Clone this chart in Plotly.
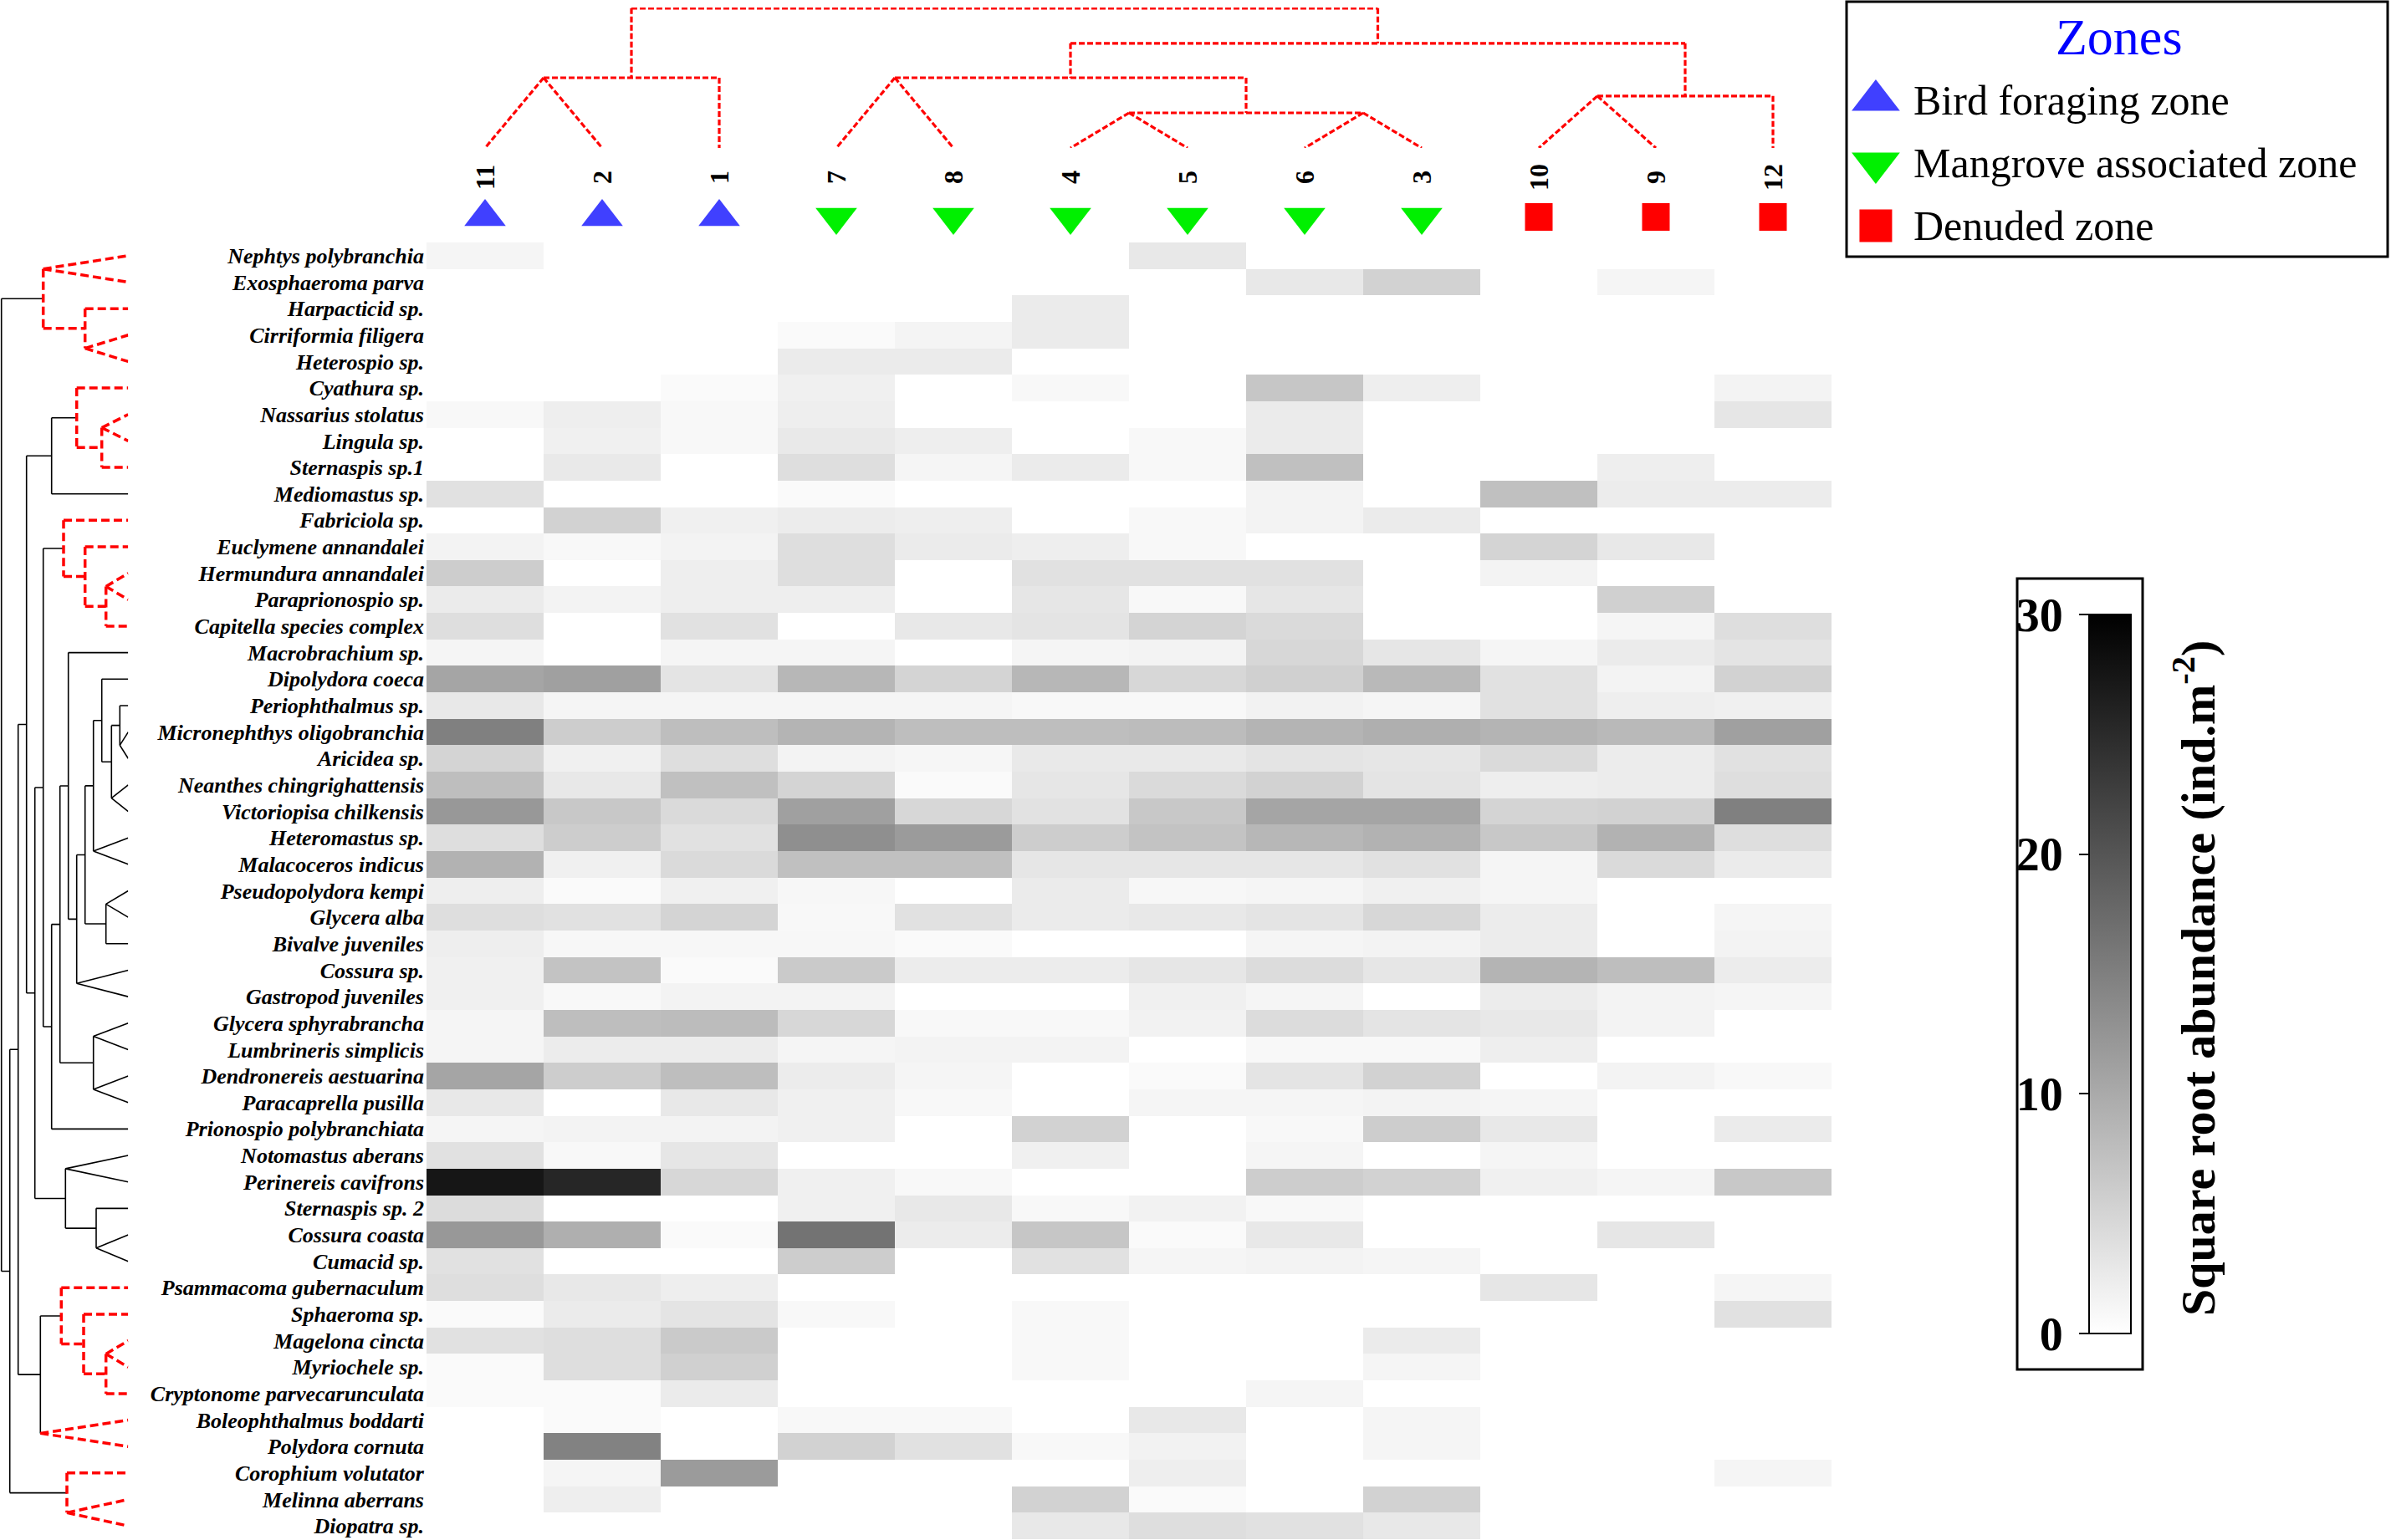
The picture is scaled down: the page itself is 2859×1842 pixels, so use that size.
import plotly.graph_objects as go

W, H = 2859, 1842
SERIF = "Liberation Serif"

# ---- data ----
species = [
    "Nephtys polybranchia", "Exosphaeroma parva", "Harpacticid sp.", "Cirriformia filigera",
    "Heterospio sp.", "Cyathura sp.", "Nassarius stolatus", "Lingula sp.", "Sternaspis sp.1",
    "Mediomastus sp.", "Fabriciola sp.", "Euclymene annandalei", "Hermundura annandalei",
    "Paraprionospio sp.", "Capitella species complex", "Macrobrachium sp.", "Dipolydora coeca",
    "Periophthalmus sp.", "Micronephthys oligobranchia", "Aricidea sp.",
    "Neanthes chingrighattensis", "Victoriopisa chilkensis", "Heteromastus sp.",
    "Malacoceros indicus", "Pseudopolydora kempi", "Glycera alba", "Bivalve juveniles",
    "Cossura sp.", "Gastropod juveniles", "Glycera sphyrabrancha", "Lumbrineris simplicis",
    "Dendronereis aestuarina", "Paracaprella pusilla", "Prionospio polybranchiata",
    "Notomastus aberans", "Perinereis cavifrons", "Sternaspis sp. 2", "Cossura coasta",
    "Cumacid sp.", "Psammacoma gubernaculum", "Sphaeroma sp.", "Magelona cincta",
    "Myriochele sp.", "Cryptonome parvecarunculata", "Boleophthalmus boddarti",
    "Polydora cornuta", "Corophium volutator", "Melinna aberrans", "Diopatra sp.",
]

sample_labels = ["11", "2", "1", "7", "8", "4", "5", "6", "3", "10", "9", "12"]
sample_zones = (["Bird foraging zone"] * 3 + ["Mangrove associated zone"] * 6
                + ["Denuded zone"] * 3)
zones = ["Bird foraging zone", "Mangrove associated zone", "Denuded zone"]

# square root abundance, one row per species, columns in sample_labels order
abundance = [
    [1.2, 0, 0, 0, 0, 0, 2.7, 0, 0, 0, 0, 0],
    [0, 0, 0, 0, 0, 0, 0, 2.7, 5.3, 0, 1.2, 0],
    [0, 0, 0, 0, 0, 2.4, 0, 0, 0, 0, 0, 0],
    [0, 0, 0, 0.6, 1.3, 2.4, 0, 0, 0, 0, 0, 0],
    [0, 0, 0, 2.4, 2.4, 0, 0, 0, 0, 0, 0, 0],
    [0, 0, 0.6, 1.8, 0, 0.8, 0, 6.7, 2.0, 0, 0, 1.4],
    [0.8, 2.0, 0.8, 2.0, 0, 0, 0, 2.4, 0, 0, 0, 2.9],
    [0, 1.8, 0.8, 2.6, 2.0, 0, 0.8, 2.4, 0, 0, 0, 0],
    [0, 2.6, 0, 3.9, 1.2, 2.4, 0.8, 7.4, 0, 0, 2.0, 0],
    [3.5, 0, 0, 0.6, 0, 0, 0, 1.4, 0, 7.4, 2.2, 2.2],
    [0, 5.3, 1.8, 2.2, 2.0, 0, 0.8, 1.4, 2.4, 0, 0, 0],
    [1.4, 0.8, 1.4, 3.9, 2.4, 2.0, 0.8, 0, 0, 5.1, 2.7, 0],
    [5.9, 0, 2.0, 3.9, 0, 3.5, 3.5, 3.5, 0, 1.4, 0, 0],
    [2.4, 1.4, 2.0, 2.0, 0, 2.9, 0.8, 2.9, 0, 0, 5.5, 0],
    [3.9, 0, 3.5, 0, 2.7, 3.2, 5.1, 4.4, 0, 0, 1.2, 3.9],
    [1.2, 0, 1.2, 1.2, 0, 1.2, 1.4, 4.7, 2.9, 1.2, 2.4, 3.2],
    [10.6, 11.2, 3.2, 8.5, 5.1, 8.5, 4.7, 5.5, 8.2, 3.5, 1.4, 5.3],
    [2.7, 1.2, 1.2, 1.2, 1.2, 0.8, 0.8, 1.5, 1.2, 3.5, 2.0, 1.8],
    [14.9, 5.9, 7.6, 8.8, 7.6, 7.6, 7.9, 8.8, 9.4, 8.8, 8.2, 11.2],
    [5.1, 1.8, 3.9, 1.4, 1.1, 2.6, 2.6, 3.2, 2.9, 4.4, 2.2, 3.5],
    [7.6, 2.7, 7.4, 5.1, 0.6, 2.9, 4.4, 5.3, 3.2, 2.0, 2.2, 3.9],
    [12.1, 6.5, 4.4, 11.2, 4.7, 3.4, 6.5, 10.6, 10.6, 5.1, 5.3, 14.9],
    [3.9, 5.9, 3.5, 13.2, 11.8, 5.9, 7.1, 8.5, 9.1, 6.5, 9.1, 3.9],
    [9.1, 1.8, 4.4, 7.4, 7.4, 2.9, 2.9, 2.9, 3.5, 1.2, 4.4, 2.4],
    [2.0, 0.6, 1.8, 0.9, 0, 2.4, 0.9, 1.2, 1.8, 1.2, 0, 0],
    [3.9, 3.5, 5.1, 0.8, 3.5, 2.4, 2.7, 3.2, 4.7, 2.2, 0, 1.2],
    [2.0, 0.9, 0.9, 0.9, 0.6, 0, 0, 1.2, 1.4, 2.2, 0, 1.4],
    [1.8, 7.1, 0.6, 6.2, 2.2, 2.2, 2.9, 4.1, 2.9, 8.8, 7.6, 2.2],
    [1.8, 0.8, 1.4, 1.4, 0, 0, 1.8, 1.2, 0, 2.2, 1.4, 1.2],
    [1.2, 7.6, 7.9, 4.7, 0.8, 0.8, 1.5, 4.1, 3.2, 2.7, 1.4, 0],
    [1.2, 2.2, 2.2, 1.2, 1.4, 1.4, 0, 0.8, 0.8, 2.0, 0, 0],
    [10.6, 5.9, 7.6, 2.2, 1.2, 0, 0.6, 3.2, 5.3, 0, 1.4, 0.8],
    [2.7, 0, 2.7, 1.8, 0.8, 0, 1.2, 1.2, 1.4, 1.2, 0, 0],
    [1.2, 1.4, 1.4, 1.8, 0, 5.3, 0, 0.8, 5.9, 2.7, 0, 2.4],
    [3.5, 0.8, 2.9, 0, 0, 1.8, 0, 1.2, 0, 1.2, 0, 0],
    [27.4, 25.5, 4.7, 1.8, 0.8, 0, 0, 5.9, 5.3, 1.8, 1.2, 6.5],
    [4.1, 0, 0, 1.8, 2.7, 0.8, 1.5, 0.8, 0, 0, 0, 0],
    [12.1, 9.4, 0.6, 16.5, 2.2, 6.7, 0.6, 2.7, 0, 0, 2.9, 0],
    [3.5, 0, 0, 5.9, 0, 3.5, 1.2, 1.4, 1.2, 0, 0, 0],
    [3.9, 2.7, 2.0, 0, 0, 0, 0, 0, 0, 2.9, 0, 1.2],
    [0.6, 2.4, 3.2, 0.8, 0, 0.8, 0, 0, 0, 0, 0, 3.5],
    [3.5, 3.9, 6.2, 0, 0, 0.8, 0, 0, 2.4, 0, 0, 0],
    [0.6, 3.9, 5.5, 0, 0, 0.8, 0, 0, 1.2, 0, 0, 0],
    [0.6, 0.6, 2.4, 0, 0, 0, 0, 1.2, 0, 0, 0, 0],
    [0, 0.6, 0, 0.8, 0.8, 0, 2.7, 0, 1.2, 0, 0, 0],
    [0, 14.7, 0, 5.3, 3.5, 0.8, 1.5, 0, 1.2, 0, 0, 0],
    [0, 1.2, 11.8, 0, 0, 0, 2.0, 0, 0, 0, 0, 1.2],
    [0, 2.0, 0, 0, 0, 5.3, 0.6, 0, 5.3, 0, 0, 0],
    [0, 0, 0, 0, 0, 2.7, 3.9, 3.5, 2.7, 0, 0, 0],
]

# dendrograms: [height, significant, child, child]; leaves are display indices,
# height None = pair of leaves drawn as a V up to the parent's height
sample_tree = [3.98, True,
               [2.0, True, [None, True, 0, 1], 2],
               [2.98, True,
                [2.0, True, [None, True, 3, 4],
                 [1.0, True, [None, True, 5, 6], [None, True, 7, 8]]],
                [1.48, True, [None, True, 9, 10], 11]]]

sp_1_5 = [10.16, True, [None, True, 0, 1], [5.16, True, 2, [None, True, 3, 4]]]
sp_6_10 = [9.16, False, [6.16, True, 5, [3.16, True, [None, True, 6, 7], 8]], 9]
sp_11_15 = [7.73, True, 10, [5.16, True, 11, [2.66, True, [None, True, 12, 13], 14]]]
sp_16_29 = [7.16, False, 15,
            [6.16, False,
             [5.16, False,
              [4.16, False,
               [3.16, False, 16,
                [2.0, False, [1.0, False, 17, [None, False, 18, 19]], [None, False, 20, 21]]],
               [None, False, 22, 23]],
              [2.66, False, [None, False, 24, 25], 26]],
             [None, False, 27, 28]]]
sp_16_34 = [9.16, False,
            [8.16, False, sp_16_29,
             [4.16, False, [None, False, 29, 30], [None, False, 31, 32]]],
            33]
sp_35_39 = [7.5, False, [None, False, 34, 35], [3.83, False, 36, [None, False, 37, 38]]]
sp_40_46 = [10.5, False,
            [8.0, True, 39, [5.33, True, 40, [2.66, True, [None, True, 41, 42], 43]]],
            [None, True, 44, 45]]
sp_47_49 = [7.33, True, 46, [None, True, 47, 48]]
species_tree = [15.16, False, sp_1_5,
                [14.16, False,
                 [13.16, False,
                  [12.16, False, sp_6_10,
                   [11.16, False, [10.16, False, sp_11_15, sp_16_34], sp_35_39]],
                  sp_40_46],
                 sp_47_49]]


def walk(node, parent_h, segs):
    """Collect (height, position) segments for a dendrogram."""
    if isinstance(node, int):
        return node, 0.0
    h, sig, a, b = node
    key = "sig" if sig else "ns"
    if h is None:
        mid = (a + b) / 2
        segs[key].append([(parent_h, mid), (0.0, a)])
        segs[key].append([(parent_h, mid), (0.0, b)])
        return mid, parent_h
    pa, ha = walk(a, h, segs)
    pb, hb = walk(b, h, segs)
    segs[key].append([(h, pa), (h, pb)])
    segs[key].append([(h, pa), (ha, pa)])
    segs[key].append([(h, pb), (hb, pb)])
    return (pa + pb) / 2, h


def to_xy(seg_list, flip):
    xs, ys = [], []
    for (h0, p0), (h1, p1) in seg_list:
        if flip:
            xs += [h0, h1, None]
            ys += [p0, p1, None]
        else:
            xs += [p0, p1, None]
            ys += [h0, h1, None]
    return xs, ys


def px_x(v):
    return v / W


def px_y(v):
    return 1 - v / H


fig = go.Figure()

fig.add_trace(go.Heatmap(
    z=abundance, x=list(range(len(sample_labels))), y=list(range(len(species))),
    zmin=0, zmax=30, colorscale=[[0, "#ffffff"], [1, "#000000"]],
    colorbar=dict(x=px_x(2498), xanchor="left", xpad=0, y=px_y(1165), yanchor="middle",
                  ypad=0, len=860, lenmode="pixels", thickness=50, thicknessmode="pixels",
                  outlinewidth=2, outlinecolor="black", showticklabels=False, ticks=""),
    hoverinfo="skip",
))

# top dendrogram
segs = {"sig": [], "ns": []}
walk(sample_tree, sample_tree[0], segs)
for key, color in (("sig", "red"), ("ns", "black")):
    if segs[key]:
        xs, ys = to_xy(segs[key], flip=False)
        fig.add_trace(go.Scatter(x=xs, y=ys, mode="lines", xaxis="x", yaxis="y2",
                                 line=dict(color=color, width=3.2, dash="7px,3px"),
                                 showlegend=False, hoverinfo="skip"))

# left dendrogram
segs = {"sig": [], "ns": []}
walk(species_tree, species_tree[0], segs)
for key, color, width, dash in (("ns", "black", 1.6, "solid"), ("sig", "red", 3.5, "10px,5px")):
    xs, ys = to_xy(segs[key], flip=True)
    fig.add_trace(go.Scatter(x=xs, y=ys, mode="lines", xaxis="x2", yaxis="y",
                             line=dict(color=color, width=width, dash=dash),
                             showlegend=False, hoverinfo="skip"))

zone_color = {"Bird foraging zone": "#4040ff", "Mangrove associated zone": "#00f000",
              "Denuded zone": "#ff0000"}
zone_symbol = {"Bird foraging zone": "triangle-up", "Mangrove associated zone": "triangle-down",
               "Denuded zone": "square"}
zone_size = {"Bird foraging zone": 43, "Mangrove associated zone": 43, "Denuded zone": 33}

# zone markers above the columns
fig.add_trace(go.Scatter(
    x=list(range(len(sample_labels))), y=[0.27] * len(sample_labels),
    xaxis="x", yaxis="y3", mode="markers",
    marker=dict(color=[zone_color[z] for z in sample_zones],
                symbol=[zone_symbol[z] for z in sample_zones],
                size=[zone_size[z] for z in sample_zones], opacity=1,
                line=dict(width=0)),
    showlegend=False, hoverinfo="skip"))

# legend markers
fig.add_trace(go.Scatter(
    x=[0.054] * len(zones), y=list(range(len(zones))), xaxis="x4", yaxis="y4", mode="markers",
    marker=dict(color=[zone_color[z] for z in zones], symbol=[zone_symbol[z] for z in zones],
                size=[50, 50, 39], opacity=1, line=dict(width=0)),
    showlegend=False, hoverinfo="skip"))

# axis used for the colour bar ticks
fig.add_trace(go.Scatter(x=[None], y=[None], xaxis="x5", yaxis="y5", showlegend=False,
                         hoverinfo="skip"))

annotations = []
for i, lab in enumerate(sample_labels):
    annotations.append(dict(x=i, y=0.69, xref="x", yref="y3", text=lab, textangle=-90,
                            showarrow=False, xanchor="center", yanchor="middle",
                            font=dict(family=SERIF, size=32, color="black", weight="bold")))
for i, z in enumerate(zones):
    annotations.append(dict(x=0.121, y=i, xref="x4", yref="y4", text=z, showarrow=False,
                            xanchor="left", yanchor="middle",
                            font=dict(family=SERIF, size=50, color="black")))
annotations.append(dict(x=px_x(2534), y=px_y(44), xref="paper", yref="paper", text="Zones",
                        showarrow=False, xanchor="center", yanchor="middle",
                        font=dict(family=SERIF, size=62, color="#0000ff")))
annotations.append(dict(x=px_x(2624), y=px_y(1170), xref="paper", yref="paper",
                        text="Square root abundance (ind.m<sup>-2</sup>)", textangle=-90,
                        showarrow=False, xanchor="center", yanchor="middle",
                        font=dict(family=SERIF, size=58, color="black", weight="bold")))

shapes = [
    dict(type="rect", xref="paper", yref="paper", x0=px_x(2208), x1=px_x(2855),
         y0=px_y(307), y1=px_y(2), line=dict(color="black", width=3)),
    dict(type="rect", xref="paper", yref="paper", x0=px_x(2412), x1=px_x(2562),
         y0=px_y(1638), y1=px_y(692), line=dict(color="black", width=3)),
]

hidden = dict(visible=False, showgrid=False, zeroline=False, automargin=False)
fig.update_layout(
    width=W, height=H, margin=dict(l=0, r=0, t=0, b=0, autoexpand=False),
    paper_bgcolor="white", plot_bgcolor="white",
    font=dict(family=SERIF, color="black"),
    xaxis=dict(domain=[px_x(510), px_x(2190)], range=[-0.5, 11.5], anchor="y", **hidden),
    yaxis=dict(domain=[px_y(1841), px_y(290)], range=[48.5, -0.5], anchor="x",
               tickvals=list(range(len(species))), ticktext=species, ticks="",
               showgrid=False, zeroline=False, showline=False, ticklabelstandoff=2,
               automargin=False,
               tickfont=dict(family=SERIF, size=26, color="black", weight="bold",
                             style="italic")),
    xaxis2=dict(domain=[0, px_x(153.3)], range=[15.33, 0], anchor="y", **hidden),
    yaxis2=dict(domain=[px_y(177), px_y(9)], range=[0, 4], anchor="x", **hidden),
    yaxis3=dict(domain=[px_y(290), px_y(177)], range=[0, 1], anchor="x", **hidden),
    xaxis4=dict(domain=[px_x(2208), px_x(2855)], range=[0, 1], anchor="y4", **hidden),
    yaxis4=dict(domain=[px_y(307), px_y(2)], range=[2.493, -1.573], anchor="x4", **hidden),
    xaxis5=dict(domain=[px_x(2498), px_x(2548)], range=[0, 1], anchor="y5", **hidden),
    yaxis5=dict(domain=[px_y(1595), px_y(735)], range=[0, 30], anchor="x5", side="left",
                tickvals=[0, 10, 20, 30], ticks="outside", ticklen=11, tickwidth=2,
                tickcolor="black", showline=False, showgrid=False, zeroline=False,
                ticklabelstandoff=8, automargin=False,
                tickfont=dict(family=SERIF, size=56, color="black", weight="bold")),
    annotations=annotations, shapes=shapes, showlegend=False,
)

fig.write_html("out.html", config={"displayModeBar": False},
               post_script="document.body.style.margin = '0px';")
